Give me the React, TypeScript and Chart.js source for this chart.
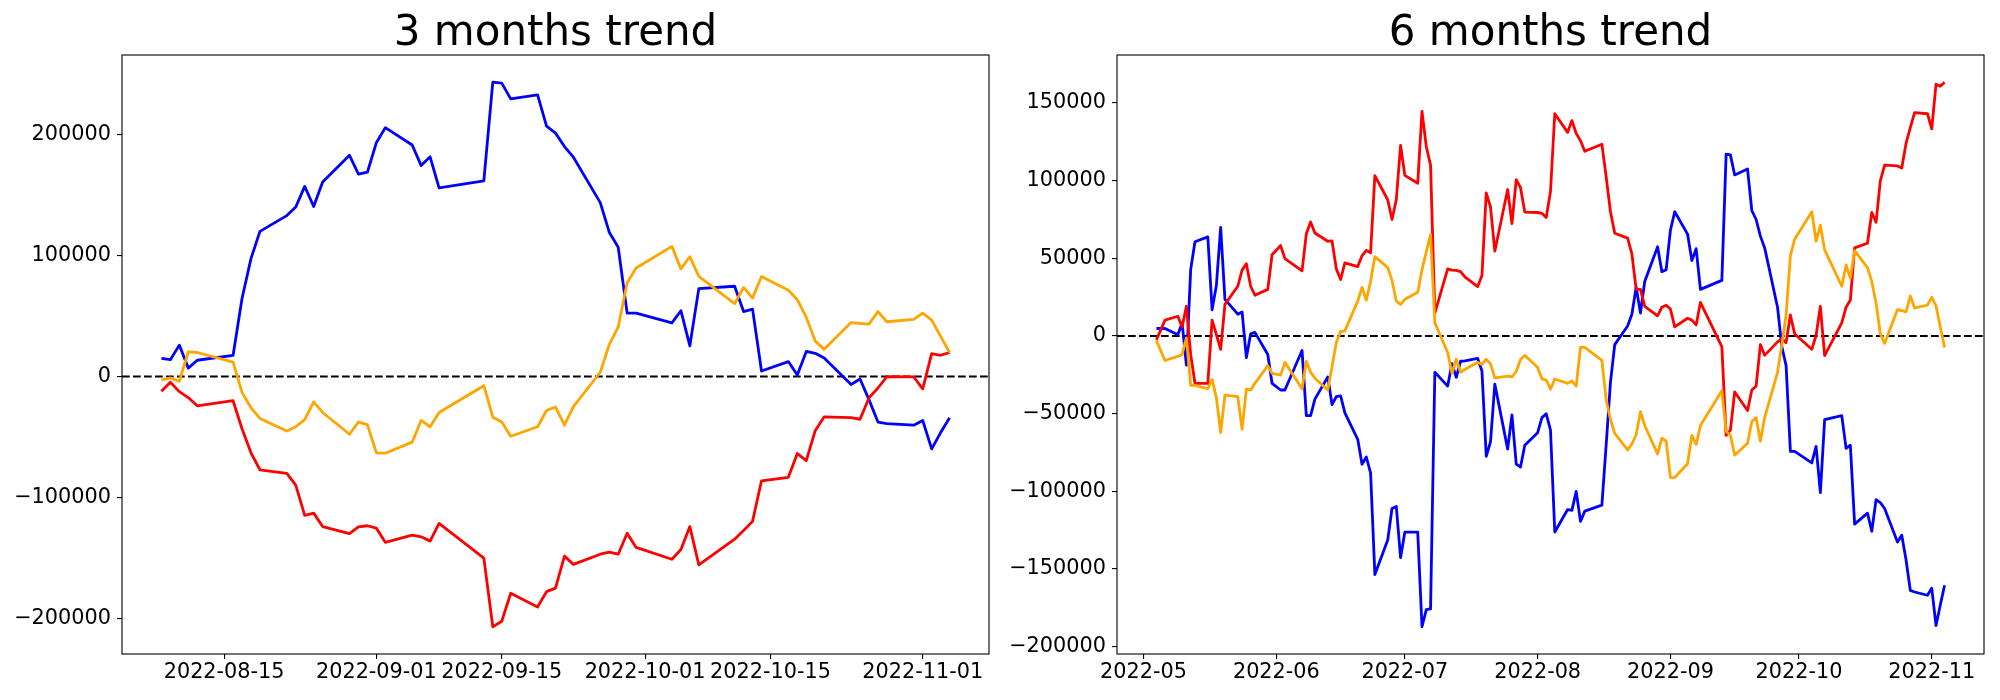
import React, { useEffect, useRef } from 'react';
import { Chart, registerables } from 'chart.js';

Chart.register(...registerables);

// ---------- 3 months data ----------
const leftDates = [
  '2022-08-08', '2022-08-09', '2022-08-10', '2022-08-11', '2022-08-12', '2022-08-16', '2022-08-17', '2022-08-18',
  '2022-08-19', '2022-08-22', '2022-08-23', '2022-08-24', '2022-08-25', '2022-08-26', '2022-08-29', '2022-08-30',
  '2022-08-31', '2022-09-01', '2022-09-02', '2022-09-05', '2022-09-06', '2022-09-07', '2022-09-08', '2022-09-13',
  '2022-09-14', '2022-09-15', '2022-09-16', '2022-09-19', '2022-09-20', '2022-09-21', '2022-09-22', '2022-09-23',
  '2022-09-26', '2022-09-27', '2022-09-28', '2022-09-29', '2022-09-30', '2022-10-04', '2022-10-05', '2022-10-06',
  '2022-10-07', '2022-10-11', '2022-10-12', '2022-10-13', '2022-10-14', '2022-10-17', '2022-10-18', '2022-10-19',
  '2022-10-20', '2022-10-21', '2022-10-24', '2022-10-25', '2022-10-26', '2022-10-27', '2022-10-28', '2022-10-31',
  '2022-11-01', '2022-11-02', '2022-11-03', '2022-11-04',
];
const leftBlue = [
  15000, 14000, 26000, 7000, 13500, 17500, 64500, 97400, 119900, 132900, 140000, 157000, 140400, 160600, 182700, 167100, 168700,
  193100, 205500, 191200, 174200, 181400, 155700, 161500, 243000, 242300, 229300, 232500, 206800, 201000, 189900, 181100, 143600, 119200, 106800, 52400, 52400,
  44300, 54400, 25400, 72600, 74600, 53700, 55700, 4600, 12400, 1300, 20800, 19200, 15300, -6500, -2000, -19000, -37500, -38800, -40100,
  -36200, -59600, -46200, -33900,
];
const leftRed = [
  -12000, -4600, -12400, -17300, -24100, -19900, -43000, -62900, -76900, -79800, -89600, -114600, -112700, -123800, -129600, -124100, -123100,
  -125100, -136800, -130900, -132200, -135800, -121200, -149800, -206500, -201900, -178800, -190200, -177500, -174600, -148200, -155000, -146600, -144900, -146600, -129300, -141000,
  -150800, -142700, -123800, -155400, -134200, -127000, -119500, -86000, -83100, -63500, -69400, -44600, -33200, -33900, -35200, -17600, -9400, 0, -300,
  -10100, 18900, 17600, 19900,
];
const leftOrange = [
  -2600, -1000, -3900, 20500, 19900, 12000, -13000, -25700, -34500, -44900, -41400, -35500, -20800, -29600, -47600, -37500, -39700,
  -62900, -63200, -54100, -36200, -41400, -29600, -7500, -33500, -37500, -49200, -41400, -28000, -25100, -40100, -24800, 3600, 26400, 41000, 77500, 89600,
  107500, 88900, 99000, 82700, 60300, 73600, 64800, 82700, 71300, 63500, 48900, 29300, 22500, 44600, 44000, 43300, 53700, 45300, 47200,
  52400, 46600, 33200, 19900,
];
const leftXTicks = ['2022-08-15', '2022-09-01', '2022-09-15', '2022-10-01', '2022-10-15', '2022-11-01'];
const leftYTicks = [-200000, -100000, 0, 100000, 200000];

// ---------- 6 months data ----------
const rightDatesHead = [
  '2022-05-04', '2022-05-06', '2022-05-09', '2022-05-10', '2022-05-11', '2022-05-12', '2022-05-13', '2022-05-16',
  '2022-05-17', '2022-05-18', '2022-05-19', '2022-05-20', '2022-05-23', '2022-05-24', '2022-05-25', '2022-05-26',
  '2022-05-27', '2022-05-30', '2022-05-31', '2022-06-02', '2022-06-03', '2022-06-07', '2022-06-08', '2022-06-09',
  '2022-06-10', '2022-06-13', '2022-06-14', '2022-06-15', '2022-06-16', '2022-06-17', '2022-06-20', '2022-06-21',
  '2022-06-22', '2022-06-23', '2022-06-24', '2022-06-27', '2022-06-28', '2022-06-29', '2022-06-30', '2022-07-01',
  '2022-07-04', '2022-07-05', '2022-07-06', '2022-07-07', '2022-07-08', '2022-07-11', '2022-07-12', '2022-07-13',
  '2022-07-14', '2022-07-15', '2022-07-18', '2022-07-19', '2022-07-20', '2022-07-21', '2022-07-22', '2022-07-25',
  '2022-07-26', '2022-07-27', '2022-07-28', '2022-07-29', '2022-08-01', '2022-08-02', '2022-08-03', '2022-08-04',
  '2022-08-05',
];
const rightDates = [...rightDatesHead, ...leftDates];
const rightBlue = [
  4800, 4800, 800, 8400, -18800, 42700, 60700, 63800, 16800, 32500, 69900, 23600, 14000, 15500, -14000, 1300, 2300, -11900, -30500,
  -34800, -34800, -9400, -51300, -51300, -40700, -26400, -44200, -39100, -38600, -49500, -66600, -82600, -78000, -88200, -153700, -131400, -111100, -109800, -142800,
  -126300, -126300, -187300, -176300, -175800, -23400, -32300, -17800, -26700, -16300, -16000, -14500, -22600, -77500, -68000, -31000, -72900, -50800, -82600, -84400, -70400,
  -62300, -52600, -50100, -60700, -126300, -111800, -112300, -100100, -119400, -112800, -109000, -70000, -29700, -5600, 6400, 14000, 31300, 14700, 35100, 57400, 41400, 42700,
  68100, 80000, 65600, 48500, 56200, 30000, 35800, 117100, 116600, 103700, 107500, 80800, 75000, 64300, 56700, 18500, -6900, -19100, -74300, -74300,
  -81800, -71100, -100900, -53900, -51300, -72400, -70400, -121200, -114100, -125800, -105500, -107300, -111100, -132700, -128300, -144100, -163900, -164900, -167000,
  -162400, -186500, -173300, -160600,
];
const rightRed = [
  -2500, 10200, 12700, 5800, 19100, -11900, -30500, -30500, 10200, 800, -8600, 20300, 32000, 42400, 46500, 32000, 26200, 30000, 52300,
  58200, 49800, 41900, 65800, 73400, 66300, 61000, 61200, 43200, 36300, 47000, 44700, 51600, 55100, 53600, 103200, 87700, 75000, 87700, 122700,
  103400, 98300, 144600, 122000, 110000, 14700, 43200, 42400, 42200, 41400, 38100, 31800, 38900, 92200, 83000, 54600, 94300, 72400, 100600, 95500, 79800,
  79500, 79000, 76200, 93000, 143100, 131100, 138700, 130400, 125800, 118900, 123500, 102400, 80000, 66100, 63000, 52900, 30000, 30000, 19100, 13000, 18500, 19800,
  17300, 5800, 11400, 10200, 7100, 21600, -6900, -64000, -60700, -36100, -48000, -34800, -32300, -5600, -12500, -3800, -1800, -4300, 13500, 1300,
  -8600, 300, 19100, -12700, 8400, 18500, 23100, 56700, 59700, 79500, 73200, 99900, 110000, 109500, 108200, 124000, 134200, 143800, 143100,
  133400, 162100, 160800, 163400,
];
const rightOrange = [
  -3000, -15800, -13200, -11900, -1300, -31800, -31800, -34000, -28000, -39900, -62300, -38100, -39100, -60200, -34300, -34800, -30500, -19100, -24100,
  -25200, -17000, -34000, -16300, -23400, -27200, -34800, -19600, -4300, 2800, 3300, 22400, 31300, 23100, 35100, 51100, 44000, 35800, 22400, 20300,
  23600, 28200, 42700, 54100, 65300, 8400, -10700, -24100, -15000, -23400, -21600, -17000, -18300, -15000, -18000, -27000, -25900, -26400, -22900, -15200, -12500,
  -20300, -27700, -28500, -34300, -27700, -30500, -29000, -32300, -7400, -7400, -15800, -41200, -53800, -62800, -73400, -69600, -63500, -48800, -57700, -76000, -65800, -67800,
  -91200, -91200, -82300, -64000, -69900, -57700, -35300, -61500, -64000, -76800, -69100, -55100, -52600, -67800, -52600, -23400, -5600, 13500, 51600, 62300,
  80000, 61000, 71400, 55400, 32000, 45700, 37100, 54900, 44000, 35100, 21100, 1300, -4800, 17000, 16300, 15500, 25700, 18000, 19800,
  24900, 19300, 5800, -7400,
];
const rightXTicks = ['2022-05', '2022-06', '2022-07', '2022-08', '2022-09', '2022-10', '2022-11'];
const rightYTicks = [-200000, -150000, -100000, -50000, 0, 50000, 100000, 150000];

const FONT = 'DejaVu Sans';

function dayNum(s: string): number {
  const [y, m, d] = s.split('-').map(Number);
  return Date.UTC(y, m - 1, d || 1) / 86400000;
}

function fmtY(v: number): string {
  return v < 0 ? '\u2212' + String(Math.abs(v)) : String(v);
}

const framePlugin = {
  id: 'frame',
  afterDraw(chart: any) {
    const { ctx, chartArea } = chart;
    ctx.save();
    ctx.strokeStyle = '#000';
    ctx.lineWidth = 1.1;
    ctx.strokeRect(chartArea.left, chartArea.top, chartArea.right - chartArea.left, chartArea.bottom - chartArea.top);
    ctx.restore();
  },
};

function makeConfig(p: {
  dates: string[];
  blue: number[];
  red: number[];
  orange: number[];
  title: string;
  xTicks: string[];
  yTicks: number[];
  yAxisWidth: number;
  padRight: number;
}) {
  const xs = p.dates.map(dayNum);
  const x0 = xs[0];
  const x1 = xs[xs.length - 1];
  const xm = (x1 - x0) * 0.05;
  const all = [...p.blue, ...p.red, ...p.orange];
  const y0 = Math.min(...all);
  const y1 = Math.max(...all);
  const ym = (y1 - y0) * 0.05;
  const xmin = x0 - xm;
  const xmax = x1 + xm;
  const tickMap = new Map<number, string>();
  p.xTicks.forEach((t) => tickMap.set(dayNum(t), t));
  const toPts = (arr: number[]) => arr.map((v, i) => ({ x: xs[i], y: v }));
  const line = (data: any, color: string, order: number) => ({
    data,
    borderColor: color,
    backgroundColor: color,
    borderWidth: 2.8,
    pointRadius: 0,
    tension: 0,
    fill: false,
    borderJoinStyle: 'round',
    order,
  });
  return {
    type: 'line',
    data: {
      datasets: [
        line(toPts(p.orange), '#ffa500', 1),
        line(toPts(p.red), '#ff0000', 2),
        line(toPts(p.blue), '#0000ff', 3),
        {
          data: [
            { x: xmin, y: 0 },
            { x: xmax, y: 0 },
          ],
          borderColor: '#000',
          borderWidth: 2,
          borderDash: [7.7, 3.3],
          pointRadius: 0,
          fill: false,
          order: 10,
        },
      ],
    },
    options: {
      responsive: false,
      maintainAspectRatio: false,
      animation: false,
      events: [],
      layout: { padding: { left: 0, right: p.padRight, top: 0, bottom: 0 } },
      plugins: {
        legend: { display: false },
        tooltip: { enabled: false },
        title: {
          display: true,
          text: p.title,
          color: '#000',
          fullSize: false,
          font: { family: FONT, size: 42, weight: 'normal', lineHeight: 1 },
          padding: { top: 13, bottom: 0 },
        },
      },
      scales: {
        x: {
          type: 'linear',
          min: xmin,
          max: xmax,
          afterFit: (scale: any) => {
            scale.height = 46;
          },
          afterBuildTicks: (scale: any) => {
            scale.ticks = p.xTicks.map((t) => ({ value: dayNum(t) }));
          },
          grid: { drawOnChartArea: false, drawTicks: true, tickLength: 5, color: '#000', lineWidth: 1.1 },
          border: { display: false },
          ticks: {
            autoSkip: false,
            maxRotation: 0,
            minRotation: 0,
            padding: 1,
            color: '#000',
            font: { family: FONT, size: 20.8 },
            callback: (v: number) => tickMap.get(v) ?? '',
          },
        },
        y: {
          type: 'linear',
          min: y0 - ym,
          max: y1 + ym,
          afterFit: (scale: any) => {
            scale.width = p.yAxisWidth;
          },
          afterBuildTicks: (scale: any) => {
            scale.ticks = p.yTicks.map((v) => ({ value: v }));
          },
          grid: { drawOnChartArea: false, drawTicks: true, tickLength: 5, color: '#000', lineWidth: 1.1 },
          border: { display: false },
          ticks: {
            padding: 6,
            color: '#000',
            font: { family: FONT, size: 20.8 },
            callback: (v: number) => fmtY(v),
          },
        },
      },
    },
    plugins: [framePlugin],
  };
}

function ChartCanvas(props: { config: any; left: number }) {
  const ref = useRef<HTMLCanvasElement | null>(null);
  useEffect(() => {
    if (!ref.current) return;
    const chart = new Chart(ref.current, props.config);
    return () => chart.destroy();
  }, []);
  return (
    <canvas
      ref={ref}
      width={1000}
      height={700}
      style={{ position: 'absolute', left: props.left, top: 0, width: 1000, height: 700 }}
    />
  );
}

export default function App() {
  const leftCfg = makeConfig({
    dates: leftDates,
    blue: leftBlue,
    red: leftRed,
    orange: leftOrange,
    title: '3 months trend',
    xTicks: leftXTicks,
    yTicks: leftYTicks,
    yAxisWidth: 122,
    padRight: 11,
  });
  const rightCfg = makeConfig({
    dates: rightDates,
    blue: rightBlue,
    red: rightRed,
    orange: rightOrange,
    title: '6 months trend',
    xTicks: rightXTicks,
    yTicks: rightYTicks,
    yAxisWidth: 117,
    padRight: 16,
  });
  return (
    <div style={{ position: 'absolute', left: 0, top: 0, width: 2000, height: 700, background: '#fff' }}>
      <ChartCanvas config={leftCfg} left={0} />
      <ChartCanvas config={rightCfg} left={1000} />
    </div>
  );
}
